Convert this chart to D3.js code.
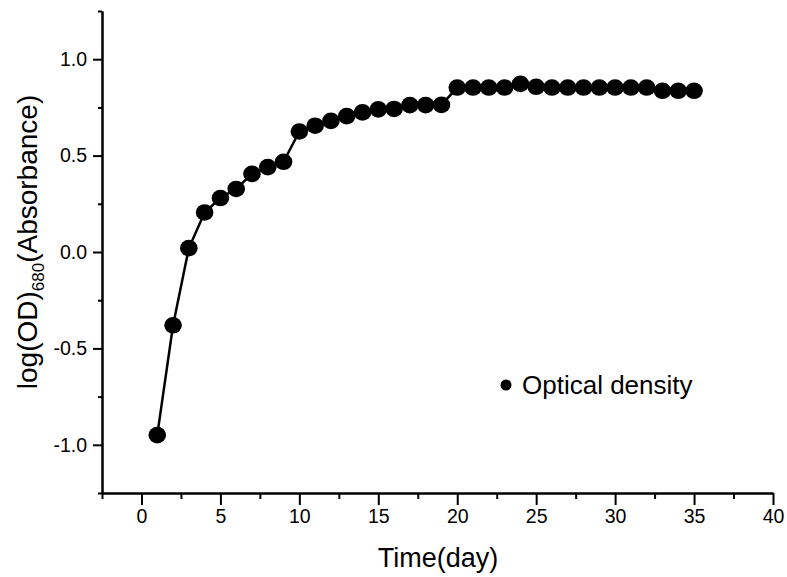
<!DOCTYPE html>
<html>
<head>
<meta charset="utf-8">
<script src="https://cdn.jsdelivr.net/npm/d3@7"></script>
<style>
  body { margin: 0; background: #fff; }
  svg { font-family: "Liberation Sans", Arial, sans-serif; }
</style>
</head>
<body>
<div id="chart"></div>
<script>
var days = [1,2,3,4,5,6,7,8,9,10,11,12,13,14,15,16,17,18,19,20,21,22,23,24,25,26,27,28,29,30,31,32,33,34,35];
var density = [-0.95,-0.38,0.02,0.205,0.28,0.327,0.405,0.44,0.468,0.625,0.655,0.68,0.705,0.724,0.74,0.742,0.762,0.762,0.763,
	0.853,0.853,0.853,0.853,0.872,0.857,0.853,0.853,0.853,0.853,0.853,0.853,0.853,0.836,0.836,0.836];
var xTicks = [0,5,10,15,20,25,30,35,40];
var xMinor = [-2.5,2.5,7.5,12.5,17.5,22.5,27.5,32.5,37.5];
var yTicks = [-1.0,-0.5,0.0,0.5,1.0];
var yMinor = [-1.25,-0.75,-0.25,0.25,0.75,1.25];
var seriesName = "Optical density";

var dataset = days.map(function(d,i){ return {day:d, value:density[i]}; });

var width = 787, height = 577;

var svg = d3.select("#chart")
	.append("svg")
	.attr("width", width)
	.attr("height", height);

var xScale = d3.scaleLinear()
	.domain([-2.5, 40])
	.range([102, 773]);

var yScale = d3.scaleLinear()
	.domain([-1.25, 1.25])
	.range([493, 11]);

var xAxis = d3.axisBottom(xScale)
	.tickValues(xTicks)
	.tickFormat(function(d){ return d; })
	.tickSizeInner(12)
	.tickSizeOuter(0)
	.tickPadding(4);

var xAxisMinor = d3.axisBottom(xScale)
	.tickValues(xMinor)
	.tickFormat("")
	.tickSizeInner(6)
	.tickSizeOuter(0);

var yAxis = d3.axisLeft(yScale)
	.tickValues(yTicks)
	.tickFormat(function(d){ return d.toFixed(1); })
	.tickSizeInner(9)
	.tickSizeOuter(0)
	.tickPadding(6);

var yAxisMinor = d3.axisLeft(yScale)
	.tickValues(yMinor)
	.tickFormat("")
	.tickSizeInner(4)
	.tickSizeOuter(0);

function styleAxis(g) {
	g.select(".domain").attr("stroke","#000").attr("stroke-width",2);
	g.selectAll(".tick line").attr("stroke","#000").attr("stroke-width",2);
	g.selectAll(".tick text").attr("fill","#000").style("font-size","19.5px");
}

svg.append("g")
	.attr("transform","translate(0," + yScale(-1.25) + ")")
	.call(xAxisMinor)
	.call(styleAxis);

svg.append("g")
	.attr("transform","translate(0," + yScale(-1.25) + ")")
	.call(xAxis)
	.call(styleAxis);

svg.append("g")
	.attr("transform","translate(" + xScale(-2.5) + ",0)")
	.call(yAxisMinor)
	.call(styleAxis);

svg.append("g")
	.attr("transform","translate(" + xScale(-2.5) + ",0)")
	.call(yAxis)
	.call(styleAxis);

// data line + markers
var line = d3.line()
	.x(function(d){ return xScale(d.day); })
	.y(function(d){ return yScale(d.value); });

svg.append("path")
	.datum(dataset)
	.attr("d", line)
	.attr("fill","none")
	.attr("stroke","#000")
	.attr("stroke-width",2.5);

svg.selectAll(".dot")
	.data(dataset)
	.enter()
	.append("ellipse")
	.attr("class","dot")
	.attr("cx", function(d){ return xScale(d.day); })
	.attr("cy", function(d){ return yScale(d.value); })
	.attr("rx", 8.8)
	.attr("ry", 8.3)
	.attr("fill","#000");

// axis titles
svg.append("text")
	.attr("x", 438)
	.attr("y", 567)
	.attr("text-anchor","middle")
	.style("font-size","27px")
	.text("Time(day)");

var yTitle = svg.append("text")
	.attr("transform","translate(37,242) rotate(-90)")
	.attr("text-anchor","middle")
	.style("font-size","28px");
yTitle.append("tspan").text("log(OD)");
yTitle.append("tspan").attr("dy",7).style("font-size","17px").text("680");
yTitle.append("tspan").attr("dy",-7).text("(Absorbance)");

// legend
var legend = svg.append("g").attr("transform","translate(506,385)");
legend.append("circle").attr("r",5.5).attr("fill","#000");
legend.append("text")
	.attr("x",16)
	.attr("y",9)
	.style("font-size","26px")
	.text(seriesName);
</script>
</body>
</html>
